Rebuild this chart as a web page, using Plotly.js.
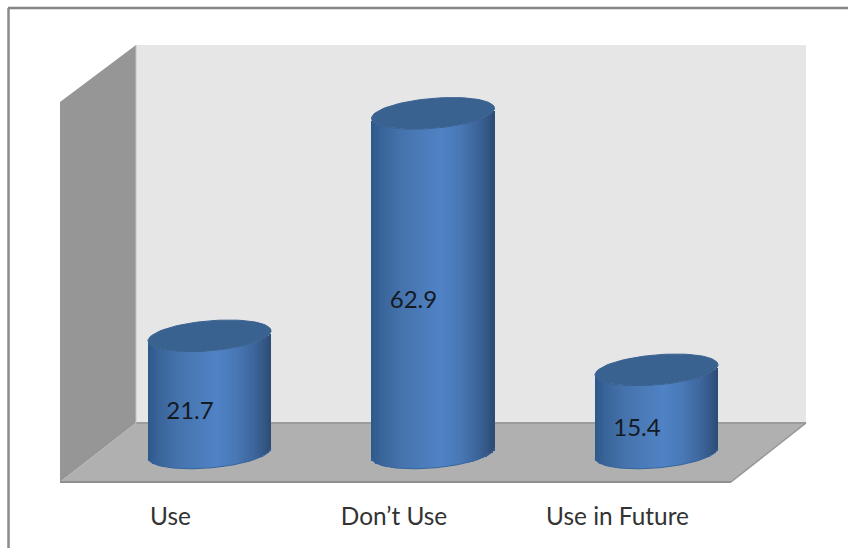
<!DOCTYPE html>
<html>
<head>
<meta charset="utf-8">
<script src="https://cdn.plot.ly/plotly-3.0.1.min.js"></script>
<style>html,body{margin:0;padding:0;background:#fff;overflow:hidden}#chart{width:848px;height:548px}</style>
</head>
<body>
<div id="chart"></div>
<script>
// Survey shares, one cylinder per answer
const categories = ['Use', 'Don\u2019t Use', 'Use in Future'];
const values = [21.7, 62.9, 15.4];

const W = 848, H = 548, PLOT_BOTTOM = 492;

// Axis calibration: category spacing and value scale in page pixels
const PX_PER_CAT = 223.5, PX_PER_UNIT = 5.4;
const CAT0_PX = 170.5, ZERO_PX = 458;
const xRange = [(0 - CAT0_PX) / PX_PER_CAT, (W - CAT0_PX) / PX_PER_CAT];
const yRange = [(ZERO_PX - PLOT_BOTTOM) / PX_PER_UNIT, ZERO_PX / PX_PER_UNIT];

// Cylinder proportions in axis units (depth pushes the columns back from the ticks)
const DEPTH_SHIFT = 39 / PX_PER_CAT, RADIUS = 61.5 / PX_PER_CAT;
const TILT = 5 / PX_PER_UNIT, MINOR = 15 / PX_PER_UNIT;
const LABEL_SHIFT = 19.5 / PX_PER_CAT, LABEL_DROP = 2.5;
const STRIPS = 62;

// Horizontal shading across a cylinder body
const shadeStops = [
  [0.00, [45, 88, 138]], [0.08, [56, 100, 153]], [0.22, [68, 113, 170]],
  [0.42, [75, 124, 186]], [0.56, [80, 131, 197]], [0.72, [72, 120, 182]],
  [0.86, [61, 102, 156]], [0.95, [51, 86, 132]], [1.00, [45, 75, 115]]
];
function shade(t) {
  for (let i = 1; i < shadeStops.length; i++) {
    if (t <= shadeStops[i][0]) {
      const [t0, c0] = shadeStops[i - 1], [t1, c1] = shadeStops[i];
      const f = (t - t0) / (t1 - t0);
      return 'rgb(' + c0.map((c, k) => Math.round(c + (c1[k] - c) * f)).join(',') + ')';
    }
  }
  return 'rgb(45,75,115)';
}

// Lower rim of an ellipse at normalised offset u in [-1, 1]
const rimLow = u => TILT + TILT * u - MINOR * Math.sqrt(Math.max(0, 1 - u * u));

// Cylinder bodies: narrow bars whose height is the value and whose base follows the rim
const stripX = [], stripY = [], stripBase = [], stripColor = [];
const stripWidth = 2 * RADIUS / STRIPS;
values.forEach((v, i) => {
  for (let s = 0; s < STRIPS; s++) {
    const t = (s + 0.5) / STRIPS, u = 2 * t - 1;
    stripX.push(i + DEPTH_SHIFT + u * RADIUS);
    stripY.push(v);
    stripBase.push(rimLow(u));
    stripColor.push(shade(t));
  }
});
const bodies = {
  type: 'bar', x: stripX, y: stripY, base: stripBase,
  width: stripWidth * 1.25,
  marker: { color: stripColor, line: { width: 0 } },
  hoverinfo: 'skip', showlegend: false
};

// Elliptical caps sit on top of each body, lit a little less than the front
function capTrace(v, i) {
  const xs = [], ys = [];
  for (let a = 0; a <= 360; a += 4) {
    const r = a * Math.PI / 180;
    xs.push(i + DEPTH_SHIFT + RADIUS * Math.cos(r));
    ys.push(v + TILT + TILT * Math.cos(r) + MINOR * Math.sin(r));
  }
  return {
    type: 'scatter', mode: 'lines', x: xs, y: ys, fill: 'toself',
    fillcolor: '#3a6291', line: { color: '#3a6291', width: 1 },
    hoverinfo: 'skip', showlegend: false
  };
}

// Smooth the foot of each cylinder with a thin rim line
function footTrace(i) {
  const xs = [], ys = [];
  for (let s = 0; s <= 60; s++) {
    const u = 2 * s / 60 - 1;
    xs.push(i + DEPTH_SHIFT + u * RADIUS);
    ys.push(rimLow(u));
  }
  return {
    type: 'scatter', mode: 'lines', x: xs, y: ys,
    line: { color: '#3a669e', width: 1 }, hoverinfo: 'skip', showlegend: false
  };
}

const valueLabels = {
  type: 'scatter', mode: 'text',
  x: values.map((v, i) => i + LABEL_SHIFT),
  y: values.map(v => v / 2 - LABEL_DROP),
  text: values.map(v => v.toFixed(1)),
  textposition: 'middle center',
  textfont: { family: 'Lato, "Open Sans", sans-serif', size: 24, color: '#141a22' },
  hoverinfo: 'skip', showlegend: false
};

// Chart furniture (walls, floor, frame) is laid out in page pixels
const px = x => x / W;
const py = y => (PLOT_BOTTOM - y) / PLOT_BOTTOM;
function poly(points, fill, line) {
  const d = points.map((p, i) => (i ? 'L' : 'M') + px(p[0]) + ',' + py(p[1])).join(' ') + ' Z';
  return {
    type: 'path', xref: 'paper', yref: 'paper', layer: 'below', path: d,
    fillcolor: fill, line: line || { width: 0 }
  };
}
function seg(x0, y0, x1, y1, color, width) {
  return {
    type: 'line', xref: 'paper', yref: 'paper', layer: 'below',
    x0: px(x0), y0: py(y0), x1: px(x1), y1: py(y1), line: { color, width }
  };
}
const shapes = [
  poly([[136, 45], [806, 45], [806, 423], [136, 423]], '#e6e6e6'),
  poly([[60, 102], [136, 45], [136, 423], [60, 482]], '#969696'),
  poly([[136, 423], [806, 423], [731, 482], [60, 482]], '#b0b0b0'),
  seg(136, 423, 806, 423, '#9c9c9c', 2),
  seg(60, 482, 731, 482, '#8f8f8f', 2),
  seg(731, 482, 806, 423, '#959595', 1.5),
  seg(136, 45, 136, 423, '#c4c4c4', 1),
  seg(8, 8, W, 8, '#858585', 2.5),
  seg(8.5, 8, 8.5, H, '#8a8a8a', 2.5)
];

const traces = [bodies];
values.forEach((v, i) => traces.push(footTrace(i)));
values.forEach((v, i) => traces.push(capTrace(v, i)));
traces.push(valueLabels);

const layout = {
  width: W, height: H,
  margin: { l: 0, r: 0, t: 0, b: H - PLOT_BOTTOM, pad: 0 },
  paper_bgcolor: '#fff', plot_bgcolor: 'rgba(0,0,0,0)',
  barmode: 'overlay', bargap: 0,
  showlegend: false,
  xaxis: {
    range: xRange, showgrid: false, zeroline: false, showline: false,
    tickmode: 'array', tickvals: categories.map((c, i) => i), ticktext: categories,
    ticks: 'outside', ticklen: 3, tickcolor: 'rgba(0,0,0,0)',
    tickfont: { family: 'Lato, "Open Sans", sans-serif', size: 24.4, color: '#333' },
    automargin: false, fixedrange: true
  },
  yaxis: { range: yRange, visible: false, fixedrange: true },
  shapes: shapes
};

Plotly.newPlot('chart', traces, layout, { displayModeBar: false, staticPlot: true });
</script>
</body>
</html>
